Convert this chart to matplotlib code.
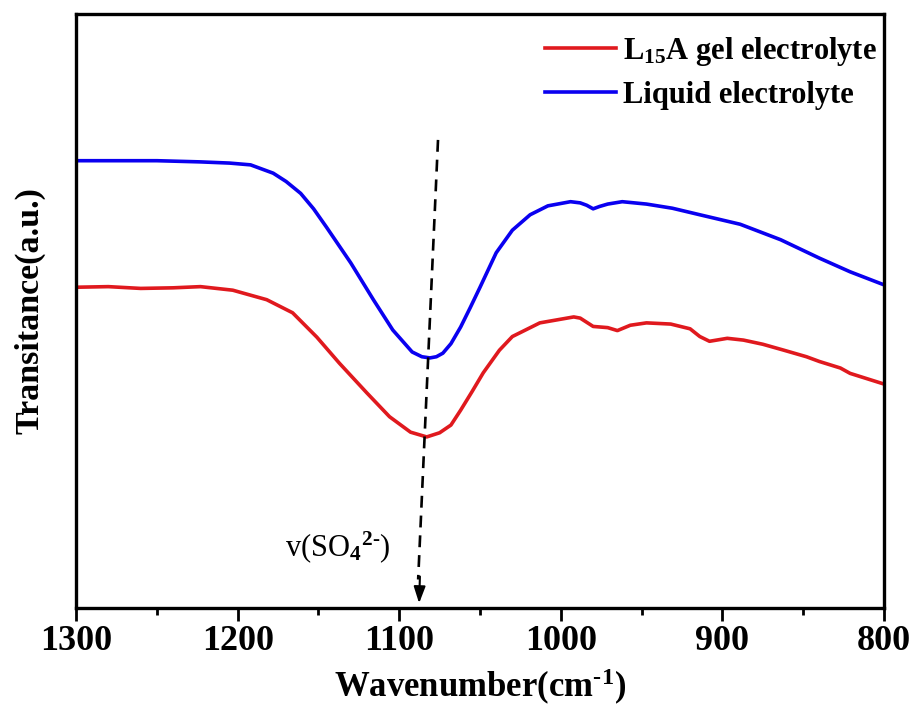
import matplotlib
matplotlib.use("Agg")
import matplotlib.pyplot as plt
from matplotlib.ticker import MultipleLocator

plt.rcParams["font.family"] = ["Liberation Serif", "DejaVu Serif"]
plt.rcParams["font.weight"] = "bold"
plt.rcParams["axes.labelweight"] = "bold"
plt.rcParams["mathtext.fontset"] = "custom"
plt.rcParams["mathtext.rm"] = "Liberation Serif"
plt.rcParams["mathtext.bf"] = "Liberation Serif:bold"
plt.rcParams["mathtext.default"] = "rm"

# wavenumber (cm-1) and transmittance (a.u.)
wn_liquid = [1300, 1275, 1250, 1223, 1205, 1192, 1178, 1170, 1161, 1153, 1145,
             1130, 1116, 1104, 1092, 1086, 1081, 1077, 1073, 1068, 1062, 1056,
             1050, 1040, 1030, 1019, 1008, 994, 988, 984, 980, 976, 971, 962,
             947, 931, 914, 889, 864, 840, 821, 800]
liquid = [75.3, 75.3, 75.3, 75.1, 74.9, 74.6, 73.2, 71.8, 69.8, 67.2, 64.1,
          58.1, 51.9, 46.8, 43.1, 42.3, 42.1, 42.3, 42.9, 44.5, 47.3, 50.6,
          54.0, 59.8, 63.6, 66.2, 67.7, 68.4, 68.2, 67.8, 67.2, 67.6, 68.0,
          68.4, 68.0, 67.3, 66.2, 64.6, 62.0, 58.9, 56.6, 54.4]

wn_gel = [1300, 1280, 1260, 1240, 1223, 1203, 1182, 1166, 1151, 1137, 1120,
          1106, 1093, 1083, 1075, 1068, 1062, 1055, 1048, 1038, 1030, 1013,
          992, 988, 980, 971, 965, 957, 947, 932, 920, 914, 908, 897, 887,
          875, 862, 848, 840, 827, 821, 800]
gel = [54.0, 54.1, 53.8, 53.9, 54.1, 53.5, 51.9, 49.7, 45.6, 41.2, 36.2,
       32.2, 29.6, 28.8, 29.5, 30.8, 33.3, 36.4, 39.6, 43.4, 45.7, 48.0,
       49.0, 48.8, 47.4, 47.2, 46.7, 47.6, 48.0, 47.8, 47.0, 45.7, 44.9,
       45.4, 45.1, 44.4, 43.4, 42.3, 41.5, 40.4, 39.5, 37.7]

arrow_start = (1076, 78.8)
arrow_end = (1087.7, 0.8)
band_label = r"v(SO$_4$$^{2\text{-}}$)"

fig = plt.figure(figsize=(9.14, 7.06), dpi=100)
ax = fig.add_axes([0.0832, 0.1388, 0.8840, 0.8414])

ax.plot(wn_gel, gel, color="#e0191e", lw=2.6, solid_joinstyle="round",
        label=r"L$_{\mathbf{15}}$A gel electrolyte")
ax.plot(wn_liquid, liquid, color="#0a00f0", lw=2.6, solid_joinstyle="round",
        label="Liquid electrolyte")

# dashed guide with arrow head
ax.plot([arrow_start[0], arrow_end[0] + 0.6], [arrow_start[1], arrow_end[1] + 4],
        color="black", ls=(0, (4.5, 3)), lw=1.9)
ax.annotate("", xy=arrow_end, xytext=(arrow_end[0] - 0.5, arrow_end[1] + 4.5),
            arrowprops=dict(arrowstyle="-|>,head_length=1.0,head_width=0.35",
                            color="black", lw=1.5, shrinkA=0, shrinkB=0))
ax.text(1138, 10.3, band_label, fontsize=22, ha="center", va="center",
        fontweight="normal")

ax.set_xlim(1300, 800)
ax.set_ylim(0, 100)
ax.xaxis.set_major_locator(MultipleLocator(100))
ax.xaxis.set_minor_locator(MultipleLocator(50))
ax.tick_params(axis="x", which="major", direction="out", length=9, width=2,
               labelsize=26, pad=3)
ax.tick_params(axis="x", which="minor", direction="out", length=5, width=2)
ax.set_yticks([])
for s in ax.spines.values():
    s.set_linewidth(2.4)

ax.set_xlabel(r"Wavenumber(cm$^{\mathbf{\text{-}1}}$)", fontsize=25, labelpad=7)
ax.set_ylabel("Transitance(a.u.)", fontsize=24.5, labelpad=22)

ax.legend(loc="upper right", frameon=False, fontsize=22, handlelength=2.3,
          handletextpad=0.25, labelspacing=0.42, borderaxespad=0,
          borderpad=0.2, bbox_to_anchor=(0.999, 0.975))

fig.savefig("out.png", dpi=100)
